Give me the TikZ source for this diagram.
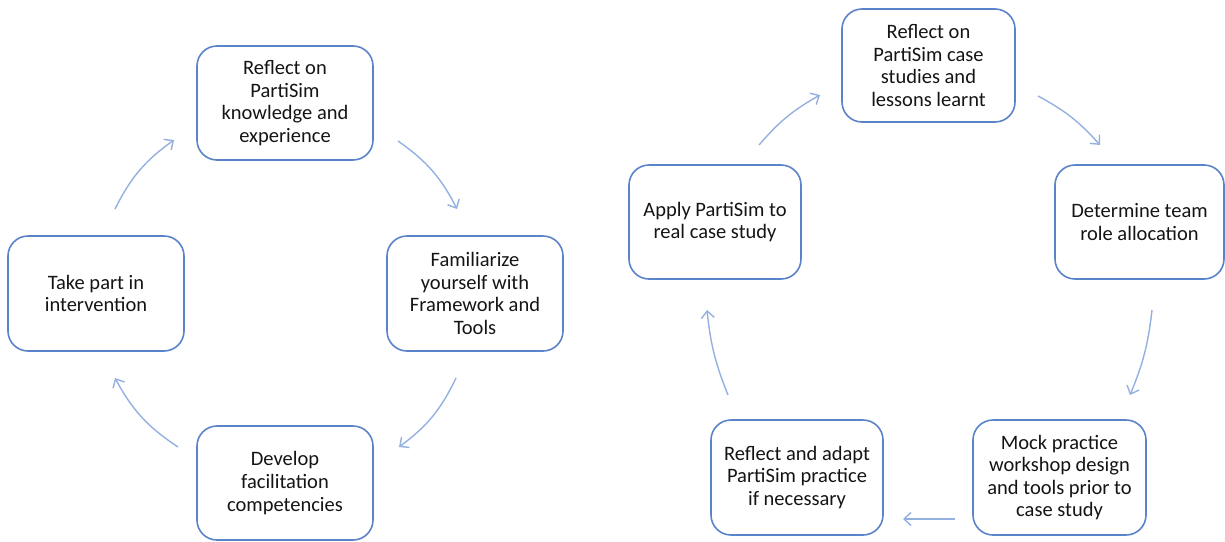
\documentclass[tikz,border=0pt]{standalone}
\usepackage{fontspec}
\setmainfont{Carlito}
\usetikzlibrary{arrows.meta}
\definecolor{boxblue}{HTML}{5B83C9}
\definecolor{arrblue}{HTML}{94B0E0}
\definecolor{txt}{HTML}{141414}
\tikzset{
  stagebox/.style={draw=boxblue, line width=1.6pt, rounded corners=20pt, inner sep=0pt,
    align=center, text=txt, font=\fontsize{20.5}{22.6}\selectfont},
  cyc/.style={draw=arrblue, line width=1.4pt, -{Straight Barb[length=7pt,width=13pt,line width=1.4pt]}},
}
\begin{document}
\begin{tikzpicture}[x=1pt,y=-1pt]
\useasboundingbox (0,0) rectangle (1225,541);
% left cycle
\node[stagebox, minimum width=176pt, minimum height=114pt] (a1) at (285,103) {Reflect on\\PartiSim\\knowledge and\\experience};
\node[stagebox, minimum width=176pt, minimum height=115pt] (a2) at (475,293.5) {Familiarize\\yourself with\\Framework and\\Tools};
\node[stagebox, minimum width=176pt, minimum height=114pt] (a3) at (285,483) {Develop\\facilitation\\competencies};
\node[stagebox, minimum width=176pt, minimum height=115pt] (a4) at (96,293.5) {Take part in\\intervention};
% right cycle
\node[stagebox, minimum width=173pt, minimum height=113pt] (b1) at (928.5,65.5) {Reflect on\\PartiSim case\\studies and\\lessons learnt};
\node[stagebox, minimum width=169pt, minimum height=114pt] (b2) at (1139.5,222) {Determine team\\role allocation};
\node[stagebox, minimum width=173pt, minimum height=115pt] (b3) at (1059.5,477.5) {Mock practice\\workshop design\\and tools prior to\\case study};
\node[stagebox, minimum width=172pt, minimum height=115pt] (b4) at (797,477.5) {Reflect and adapt\\PartiSim practice\\if necessary};
\node[stagebox, minimum width=172pt, minimum height=114pt] (b5) at (715,222) {Apply PartiSim to\\real case study};
% arrow end points
\coordinate (p1s) at (398,141); \coordinate (p1e) at (457,209);
\coordinate (p2s) at (456,378); \coordinate (p2e) at (399,447);
\coordinate (p3s) at (178,447); \coordinate (p3e) at (115,378);
\coordinate (p4s) at (115,209); \coordinate (p4e) at (174,140);
\coordinate (q1s) at (759,145); \coordinate (q1e) at (820,95);
\coordinate (q2s) at (1038,96); \coordinate (q2e) at (1100,145);
\coordinate (q3s) at (1152,310); \coordinate (q3e) at (1130,395);
\coordinate (q4s) at (955,519); \coordinate (q4e) at (903,519);
\coordinate (q5s) at (728,395); \coordinate (q5e) at (707,310);
\draw[cyc] (p1s) to[bend left=14] (p1e);
\draw[cyc] (p2s) to[bend left=14] (p2e);
\draw[cyc] (p3s) to[bend left=14] (p3e);
\draw[cyc] (p4s) to[bend left=14] (p4e);
\draw[cyc] (q1s) to[bend left=10] (q1e);
\draw[cyc] (q2s) to[bend left=10] (q2e);
\draw[cyc] (q3s) to[bend left=8] (q3e);
\draw[cyc] (q4s) -- (q4e);
\draw[cyc] (q5s) to[bend left=8] (q5e);
\end{tikzpicture}
\end{document}
